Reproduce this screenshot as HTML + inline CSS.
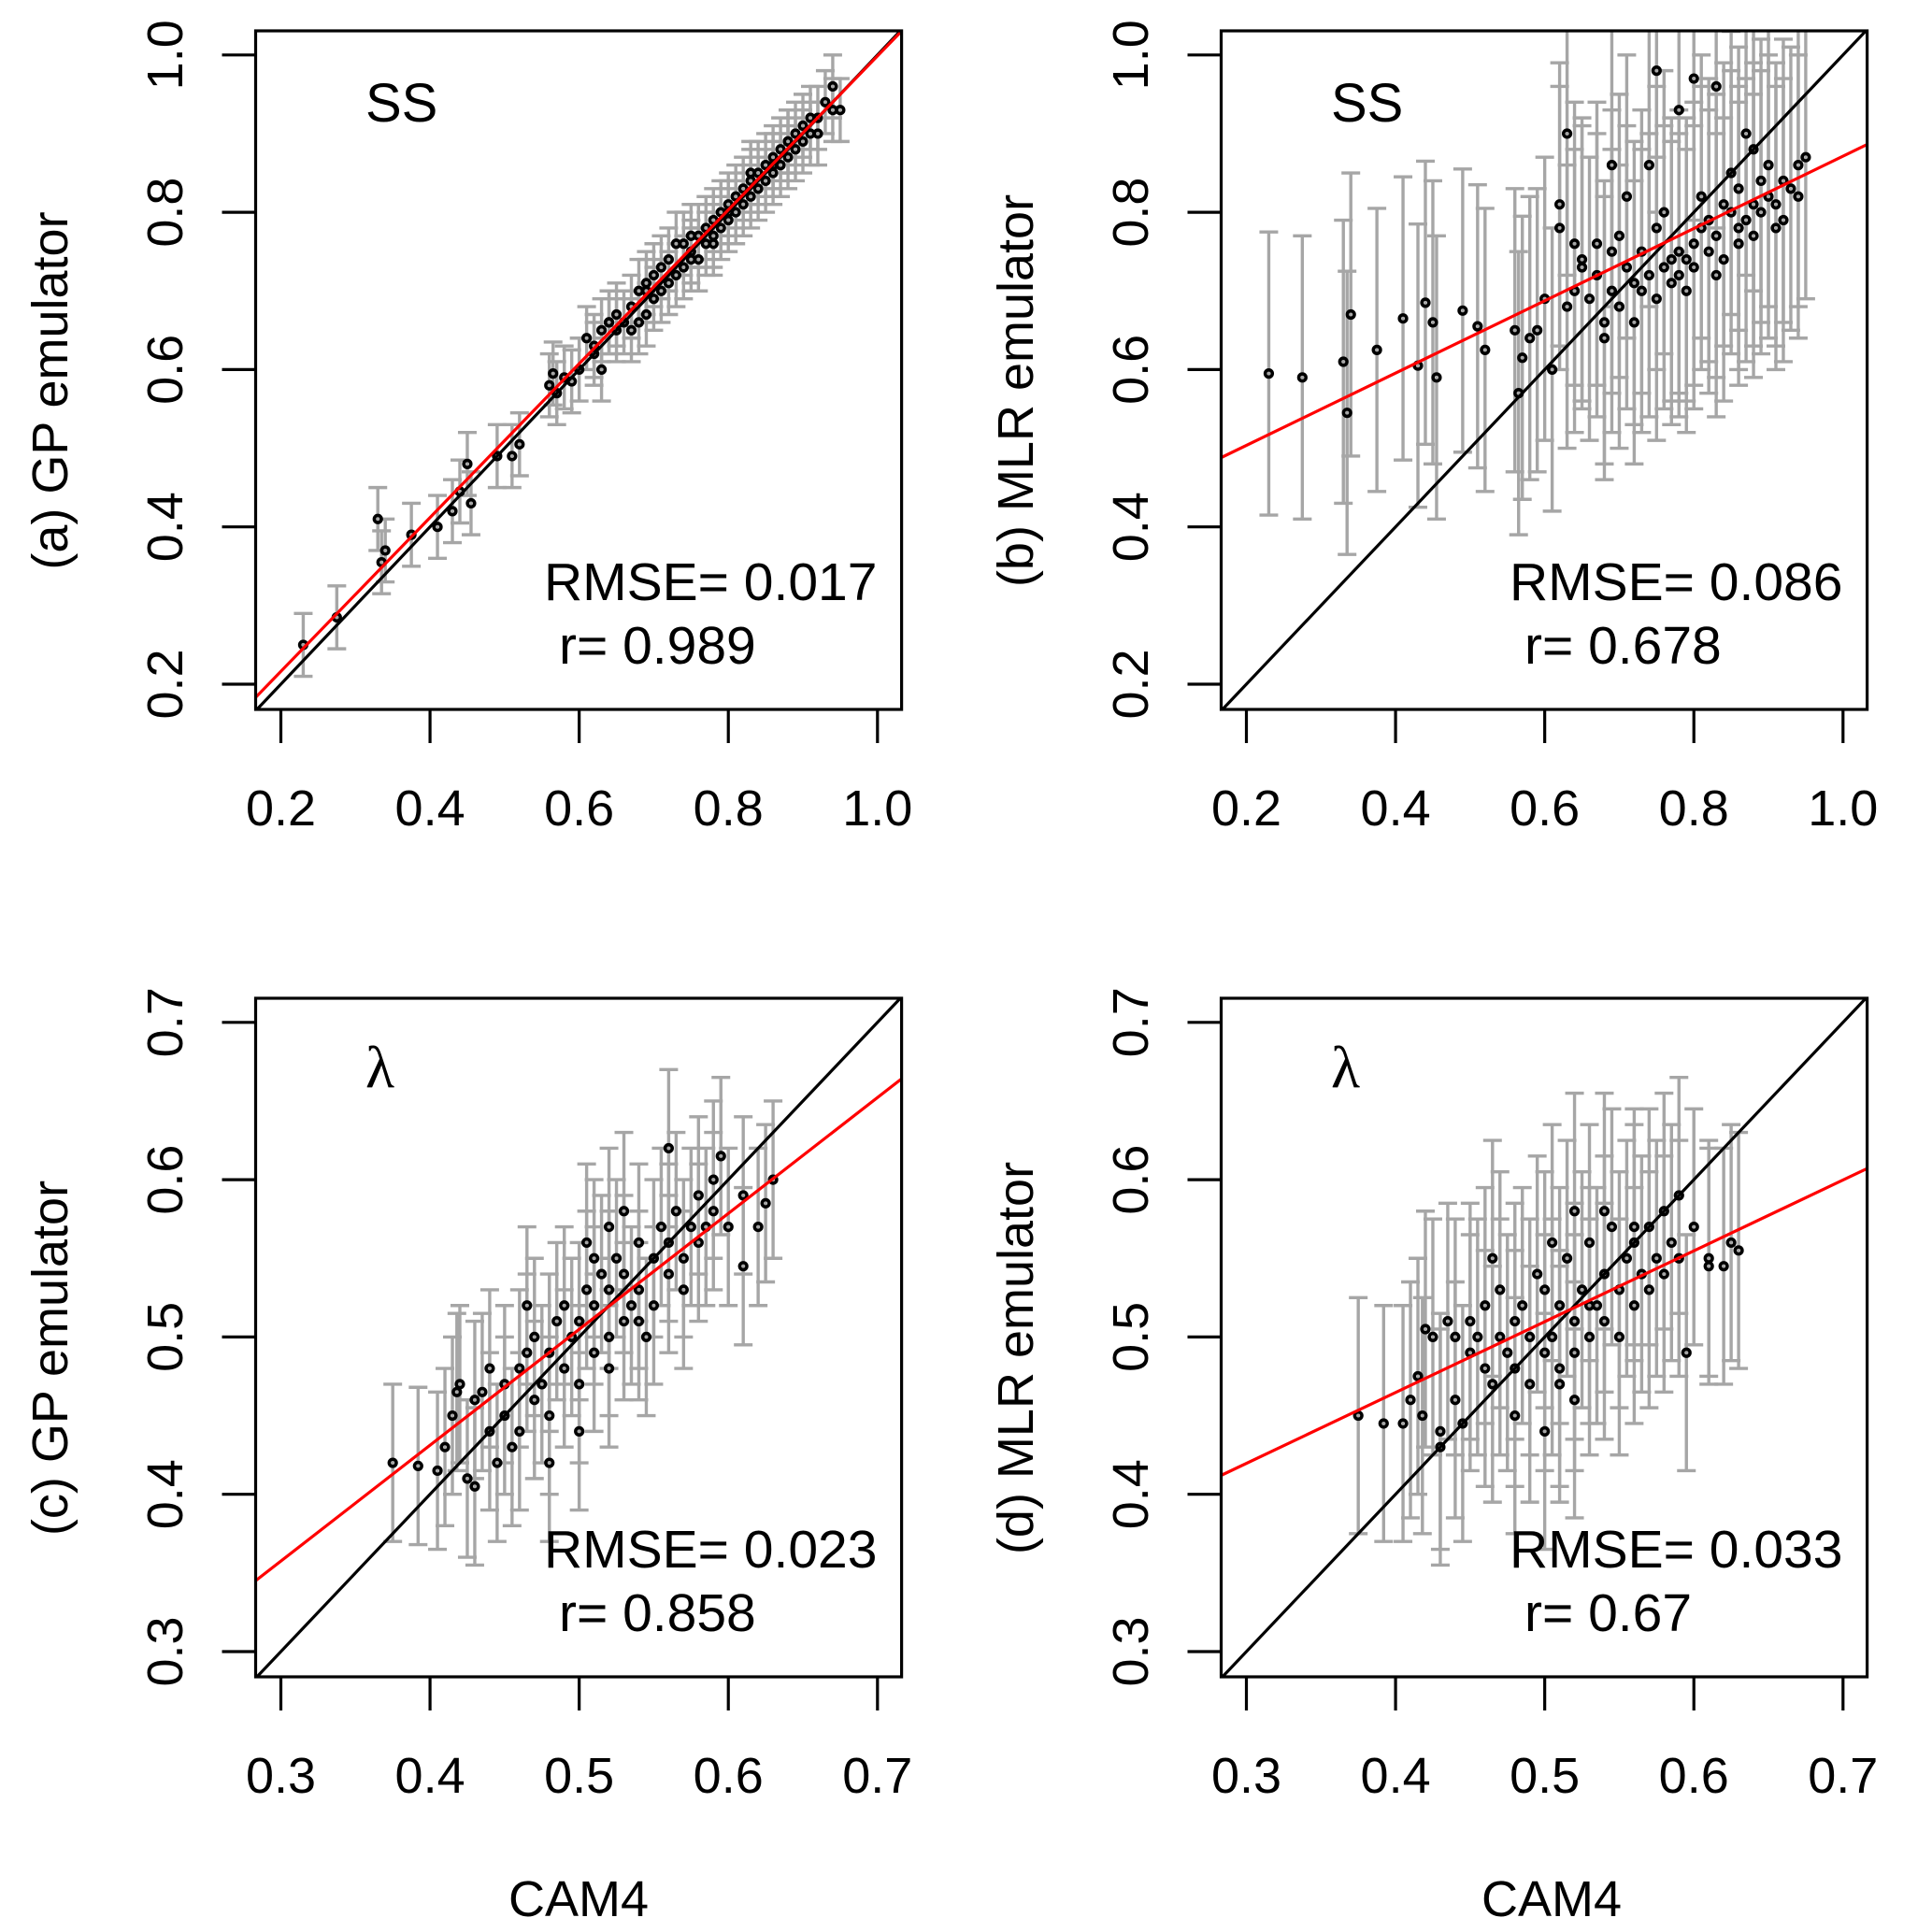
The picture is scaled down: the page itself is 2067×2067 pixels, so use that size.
<!DOCTYPE html>
<html><head><meta charset="utf-8"><style>
body{margin:0;background:#fff;overflow:hidden}
svg{display:block;font-family:"Liberation Sans",sans-serif}
</style></head><body>
<svg id="fig" width="2067" height="2067" viewBox="0 0 2067 2067" xmlns="http://www.w3.org/2000/svg"></svg>
<script>
// ---- data ----
const ssX  =[0.23,0.275,0.33,0.335,0.34,0.375,0.41,0.43,0.44,0.45,0.455,0.49,0.51,0.52,0.56,0.565,0.57,0.58,0.59,0.60,0.61,0.62,0.63,0.64,0.65,
0.66,0.67,0.67,0.68,0.69,0.69,0.70,0.70,0.71,0.71,0.72,0.72,0.73,0.73,0.74,0.74,0.75,0.75,0.76,0.76,0.77,0.77,0.78,0.78,0.78,0.79,0.79,0.80,0.80,0.81,0.81,0.82,0.82,0.83,0.83,0.84,0.84,0.85,0.85,0.86,0.86,0.87,0.87,0.88,0.88,0.89,0.89,0.90,0.90,0.91,0.92,0.92,0.93,0.94,0.94,0.95,0.64,0.65,0.68,0.69,0.75,0.80,0.83,0.86,0.88,0.91,0.62,0.63];
const ssGP =[0.25,0.285,0.41,0.355,0.37,0.39,0.40,0.42,0.445,0.48,0.43,0.49,0.49,0.505,0.58,0.595,0.57,0.59,0.585,0.60,0.64,0.62,0.60,0.66,0.65,
0.66,0.68,0.65,0.70,0.67,0.71,0.72,0.69,0.73,0.70,0.74,0.71,0.76,0.72,0.73,0.76,0.74,0.77,0.77,0.74,0.78,0.76,0.79,0.76,0.77,0.80,0.78,0.81,0.79,0.82,0.80,0.83,0.81,0.84,0.82,0.85,0.83,0.86,0.84,0.87,0.85,0.88,0.86,0.89,0.87,0.90,0.88,0.91,0.89,0.92,0.92,0.90,0.94,0.93,0.96,0.93,0.66,0.67,0.66,0.70,0.75,0.80,0.85,0.86,0.89,0.90,0.63,0.65];
const ssMLR=[0.595,0.59,0.61,0.545,0.67,0.625,0.665,0.605,0.685,0.66,0.59,0.675,0.655,0.625,0.65,0.57,0.615,0.64,0.65,0.69,0.60,0.78,0.90,0.70,0.73,
0.69,0.72,0.76,0.66,0.75,0.70,0.77,0.68,0.73,0.82,0.71,0.66,0.75,0.70,0.86,0.72,0.69,0.78,0.73,0.80,0.71,0.74,0.75,0.93,0.72,0.74,0.70,0.76,0.73,0.78,0.82,0.75,0.79,0.77,0.96,0.81,0.74,0.80,0.85,0.78,0.83,0.79,0.90,0.81,0.77,0.84,0.80,0.82,0.86,0.81,0.84,0.79,0.83,0.86,0.82,0.87,0.76,0.74,0.64,0.86,0.98,0.97,0.72,0.76,0.88,0.78,0.81,0.68];
const lamX  =[0.375,0.392,0.405,0.41,0.415,0.418,0.42,0.425,0.43,0.43,0.435,0.44,0.44,0.445,0.45,0.45,0.455,0.46,0.46,0.465,0.47,0.47,0.475,0.48,0.48,0.485,0.49,0.49,0.495,0.50,0.50,0.505,0.51,0.51,0.515,0.52,0.52,0.525,0.53,0.53,0.535,0.54,0.54,0.545,0.55,0.55,0.555,0.56,0.56,0.565,0.57,0.57,0.575,0.58,0.58,0.585,0.59,0.59,0.595,0.60,0.61,0.61,0.62,0.625,0.63,0.48,0.50,0.52,0.54,0.56,0.505,0.465,0.52,0.53,0.51];
const lamGP =[0.42,0.418,0.415,0.43,0.45,0.465,0.47,0.41,0.405,0.46,0.465,0.44,0.48,0.42,0.45,0.47,0.43,0.48,0.44,0.49,0.46,0.50,0.47,0.49,0.45,0.51,0.48,0.52,0.50,0.47,0.51,0.53,0.49,0.52,0.54,0.50,0.53,0.55,0.51,0.54,0.52,0.56,0.53,0.50,0.55,0.52,0.57,0.54,0.56,0.58,0.55,0.53,0.57,0.59,0.56,0.57,0.60,0.58,0.615,0.57,0.545,0.59,0.57,0.585,0.60,0.42,0.44,0.48,0.51,0.62,0.56,0.52,0.57,0.58,0.55];
const lamMLR=[0.45,0.445,0.445,0.46,0.475,0.45,0.505,0.50,0.43,0.44,0.51,0.46,0.50,0.445,0.49,0.51,0.50,0.48,0.52,0.47,0.50,0.53,0.49,0.51,0.48,0.52,0.47,0.50,0.54,0.49,0.53,0.50,0.52,0.47,0.55,0.51,0.49,0.53,0.50,0.56,0.52,0.51,0.54,0.57,0.53,0.50,0.55,0.52,0.56,0.54,0.57,0.53,0.55,0.58,0.54,0.56,0.55,0.59,0.49,0.57,0.545,0.55,0.545,0.56,0.555,0.45,0.44,0.46,0.58,0.57,0.56,0.55,0.58,0.52,0.48];
const errHalf=[0.04,0.18,0.05,0.075];
const fitA=[[0.166,0.183],[1.032,1.03]];
const fitB=[[0.166,0.488],[1.032,0.886]];
const fitC=[[0.283,0.345],[0.716,0.664]];
const fitD=[[0.283,0.412],[0.716,0.607]];
const ssTicks=["0.2","0.4","0.6","0.8","1.0"];
const lamTicks=["0.3","0.4","0.5","0.6","0.7"];

const NS="http://www.w3.org/2000/svg";
const svg=document.getElementById('fig');
function mk(tag,attrs,parent){const e=document.createElementNS(NS,tag);for(const k in attrs)e.setAttribute(k,attrs[k]);(parent||svg).appendChild(e);return e;}

const DX=1033, DY=1035;
const panels=[
 {id:'a',dx:0,dy:0,xs:ssX,ys:ssGP,err:errHalf[0],fit:fitA,ticks:ssTicks,t0:0.2,step:0.2,label:"(a) GP emulator",tag:"SS",rmse:"RMSE= 0.017",r:"r= 0.989"},
 {id:'b',dx:DX,dy:0,xs:ssX,ys:ssMLR,err:errHalf[1],fit:fitB,ticks:ssTicks,t0:0.2,step:0.2,label:"(b) MLR emulator",tag:"SS",rmse:"RMSE= 0.086",r:"r= 0.678"},
 {id:'c',dx:0,dy:DY,xs:lamX,ys:lamGP,err:errHalf[2],fit:fitC,ticks:lamTicks,t0:0.3,step:0.1,label:"(c) GP emulator",tag:"λ",rmse:"RMSE= 0.023",r:"r= 0.858"},
 {id:'d',dx:DX,dy:DY,xs:lamX,ys:lamMLR,err:errHalf[3],fit:fitD,ticks:lamTicks,t0:0.3,step:0.1,label:"(d) MLR emulator",tag:"λ",rmse:"RMSE= 0.033",r:"r= 0.67"}
];
panels.forEach(p=>{
  const g=mk('g',{});
  
  
  const X=v=>p.dx+300.5+(v-p.t0)/(p.step*4)*638.3;
  const Y=v=>p.dy+732-(v-p.t0)/p.step*168.3;
  const L=p.dx+273.5,R=p.dx+964.6,T=p.dy+33,B=p.dy+759;
  const clip=mk('clipPath',{id:'clip'+p.id},g);
  mk('rect',{x:L,y:T,width:R-L,height:B-T},clip);
  const pg=mk('g',{'clip-path':'url(#clip'+p.id+')'},g);
  const eb=mk('g',{stroke:'#a6a6a6','stroke-width':3.4,fill:'none'},pg);
  
  
  p.xs.forEach((x,i)=>{
    const cx=X(x),y1=Y(p.ys[i]-p.err),y2=Y(p.ys[i]+p.err);
    mk('path',{d:`M${cx},${y1}V${y2}M${cx-10},${y1}H${cx+10}M${cx-10},${y2}H${cx+10}`},eb);
  });
  const ln=mk('line',{x1:X(0),y1:Y(0),x2:X(1.2),y2:Y(1.2),stroke:'#000','stroke-width':3.2},pg);
  
  
  const pts=mk('g',{stroke:'#000','stroke-width':3.6,fill:'none'},pg);
  
  
  p.xs.forEach((x,i)=>{mk('circle',{cx:X(x),cy:Y(p.ys[i]),r:3.8},pts);});
  const fl=mk('line',{x1:X(p.fit[0][0]),y1:Y(p.fit[0][1]),x2:X(p.fit[1][0]),y2:Y(p.fit[1][1]),stroke:'#ff0000','stroke-width':3.2},pg);
  
  
  const bx=mk('rect',{x:L,y:T,width:R-L,height:B-T,fill:'none',stroke:'#000','stroke-width':3.2},g);
  
  
  p.ticks.forEach((t,i)=>{
    const v=p.t0+i*p.step;
    mk('line',{x1:X(v),y1:B,x2:X(v),y2:B+36,stroke:'#000','stroke-width':3.2},g);
    const tx=mk('text',{x:X(v),y:p.dy+883,'font-size':54,'text-anchor':'middle'},g);
    tx.textContent=t;
    
    
    mk('line',{x1:L,y1:Y(v),x2:L-36,y2:Y(v),stroke:'#000','stroke-width':3.2},g);
    const ty=mk('text',{x:0,y:0,'font-size':54,'text-anchor':'middle',transform:`translate(${p.dx+195},${Y(v)}) rotate(-90)`},g);
    ty.textContent=t;
    
    
  });
  const yl=mk('text',{x:0,y:0,'font-size':54,'text-anchor':'middle',transform:`translate(${p.dx+72},${p.dy+418}) rotate(-90)`},g);
  yl.textContent=p.label;
  
  
  const tg=mk('text',{x:p.dx+391,y:p.dy+(p.tag==='SS'?130:128),'font-size':p.tag==='SS'?58:64,'font-family':p.tag==='SS'?'Liberation Sans':'Liberation Serif, serif'},g);
  tg.textContent=p.tag;
  
  
  const rm=mk('text',{x:p.dx+582,y:p.dy+642,'font-size':57},g);
  rm.textContent=p.rmse;
  
  
  const rr=mk('text',{x:p.dx+598,y:p.dy+710,'font-size':57},g);
  rr.textContent=p.r;
  
  
});
[619,1660].forEach(cx=>{
  const t=mk('text',{x:cx,y:2050,'font-size':54,'text-anchor':'middle'});
  t.textContent="CAM4";
  
  
});
</script>
</body></html>
